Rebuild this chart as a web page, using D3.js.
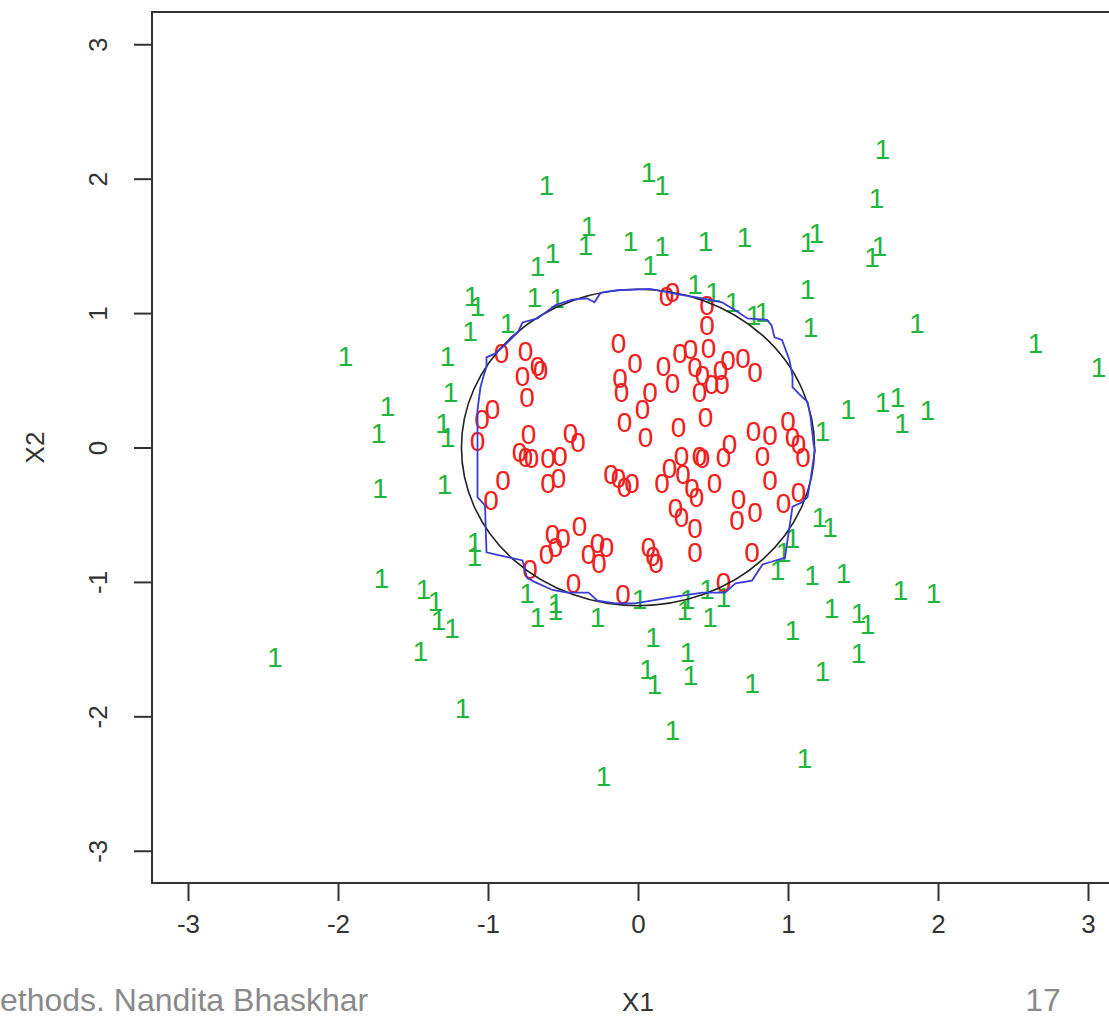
<!DOCTYPE html>
<html>
<head>
<meta charset="utf-8">
<script src="https://cdn.jsdelivr.net/npm/d3@7"></script>
<style>
  body { margin: 0; background: #fff; }
  svg { display: block; }
  text { font-family: "Liberation Sans", Arial, Helvetica, sans-serif; }
</style>
</head>
<body>
<script>

// tick values on both axes
const xTicks = [-3, -2, -1, 0, 1, 2, 3];
const yTicks = [-3, -2, -1, 0, 1, 2, 3];

// class 1 observations (green) as [X1, X2]
const class1Points = [
  [1.63, 2.22], [-0.61, 1.95], [0.07, 2.05], [0.16, 1.95], [1.59, 1.86],
  [-0.33, 1.65], [-0.35, 1.51], [-0.05, 1.54], [0.16, 1.50], [0.08, 1.36],
  [0.45, 1.54], [0.71, 1.57], [1.13, 1.53], [1.19, 1.60], [1.56, 1.42],
  [1.61, 1.50], [-0.57, 1.45], [-0.67, 1.35], [-1.11, 1.13], [-1.07, 1.05],
  [-0.69, 1.12], [-0.54, 1.11], [0.38, 1.22], [0.50, 1.16], [0.63, 1.08],
  [0.77, 0.99], [0.83, 1.01], [1.13, 1.18], [1.15, 0.90], [-1.12, 0.87],
  [-0.87, 0.93], [-1.95, 0.68], [-1.27, 0.68], [-1.25, 0.41], [-1.67, 0.31],
  [-1.73, 0.11], [-1.30, 0.18], [-1.27, 0.08], [-1.72, -0.30], [-1.29, -0.27],
  [-1.09, -0.70], [-1.09, -0.81], [-1.71, -0.97], [-1.43, -1.05], [-1.35, -1.14],
  [-1.33, -1.28], [-1.24, -1.34], [-1.45, -1.51], [-2.42, -1.56], [-1.17, -1.94],
  [-0.23, -2.44], [-0.74, -1.08], [-0.67, -1.26], [-0.55, -1.16], [-0.55, -1.21],
  [-0.27, -1.26], [0.01, -1.13], [0.10, -1.41], [0.06, -1.65], [0.11, -1.76],
  [0.31, -1.21], [0.33, -1.13], [0.46, -1.05], [0.57, -1.11], [0.48, -1.26],
  [0.33, -1.52], [0.35, -1.69], [0.76, -1.75], [0.23, -2.10], [1.11, -2.31],
  [1.03, -1.36], [1.29, -1.19], [1.47, -1.23], [1.53, -1.31], [1.47, -1.53],
  [1.23, -1.66], [0.93, -0.91], [0.97, -0.78], [1.03, -0.67], [1.16, -0.95],
  [1.37, -0.93], [1.21, -0.52], [1.28, -0.59], [1.75, -1.06], [1.97, -1.08],
  [1.86, 0.93], [2.65, 0.78], [3.07, 0.60], [1.40, 0.29], [1.63, 0.34],
  [1.73, 0.38], [1.76, 0.18], [1.93, 0.28], [1.23, 0.12]
];

// class 0 observations (red) as [X1, X2]
const class0Points = [
  [-0.91, 0.70], [-0.75, 0.72], [-0.67, 0.61], [-0.65, 0.58], [-0.77, 0.53],
  [-0.74, 0.38], [-0.97, 0.29], [-1.04, 0.21], [-1.07, 0.05], [-0.73, 0.10],
  [-0.45, 0.11], [-0.40, 0.04], [-0.79, -0.03], [-0.75, -0.07], [-0.71, -0.08],
  [-0.60, -0.08], [-0.52, -0.06], [-0.90, -0.24], [-0.98, -0.39], [-0.60, -0.26],
  [-0.53, -0.23], [-0.18, -0.20], [-0.13, -0.23], [-0.09, -0.29], [-0.04, -0.26],
  [-0.39, -0.58], [-0.57, -0.64], [-0.50, -0.67], [-0.55, -0.74], [-0.61, -0.79],
  [-0.33, -0.79], [-0.27, -0.71], [-0.21, -0.74], [-0.26, -0.86], [-0.72, -0.90],
  [-0.43, -1.01], [-0.10, -1.09], [0.07, -0.74], [0.10, -0.81], [0.12, -0.86],
  [0.16, -0.26], [0.21, -0.15], [0.29, -0.06], [0.30, -0.20], [0.36, -0.30],
  [0.39, -0.37], [0.25, -0.45], [0.29, -0.52], [0.38, -0.60], [0.38, -0.78],
  [0.51, -0.26], [0.41, -0.06], [0.43, -0.08], [0.57, -0.07], [0.61, 0.03],
  [0.67, -0.38], [0.66, -0.54], [0.78, -0.48], [0.76, -0.78], [0.57, -1.00],
  [0.83, -0.06], [0.77, 0.12], [0.88, 0.09], [0.88, -0.24], [1.00, 0.20],
  [1.03, 0.08], [1.07, 0.03], [1.10, -0.07], [1.07, -0.33], [0.97, -0.41],
  [0.27, 0.15], [0.45, 0.23], [0.05, 0.08], [-0.09, 0.19], [0.03, 0.29],
  [0.08, 0.41], [-0.11, 0.41], [-0.12, 0.52], [-0.02, 0.63], [-0.13, 0.78],
  [0.17, 0.61], [0.23, 0.48], [0.28, 0.70], [0.35, 0.73], [0.38, 0.60],
  [0.47, 0.74], [0.41, 0.41], [0.43, 0.54], [0.49, 0.47], [0.55, 0.58],
  [0.56, 0.47], [0.60, 0.65], [0.70, 0.67], [0.78, 0.56], [0.46, 0.91],
  [0.46, 1.06], [0.19, 1.13], [0.23, 1.16]
];

// fitted decision boundary (blue), traced clockwise from the top
const fittedBoundary = [
  [-0.14, 1.17], [0.08, 1.18], [0.27, 1.14], [0.43, 1.11], [0.56, 1.08],
  [0.65, 1.02], [0.73, 0.96], [0.86, 0.95], [0.89, 0.91], [0.91, 0.82],
  [0.96, 0.80], [1.01, 0.65], [1.03, 0.53], [1.03, 0.45], [1.09, 0.38],
  [1.13, 0.34], [1.15, 0.23], [1.17, 0.03], [1.18, -0.02], [1.17, -0.09],
  [1.15, -0.24], [1.13, -0.37], [1.09, -0.41], [1.03, -0.44], [1.01, -0.59],
  [0.99, -0.74], [0.98, -0.82], [0.89, -0.85], [0.83, -0.87], [0.76, -0.99],
  [0.65, -1.01], [0.58, -1.08], [0.43, -1.08], [0.25, -1.11], [-0.02, -1.16],
  [-0.15, -1.16], [-0.27, -1.14], [-0.33, -1.08], [-0.47, -1.08], [-0.57, -1.06],
  [-0.69, -1.00], [-0.74, -0.97], [-0.75, -0.93], [-0.77, -0.84], [-0.93, -0.80],
  [-1.01, -0.78], [-1.02, -0.43], [-1.07, -0.37], [-1.07, -0.02], [-1.07, 0.28],
  [-1.05, 0.45], [-1.03, 0.53], [-1.01, 0.60], [-1.01, 0.67], [-0.95, 0.70],
  [-0.89, 0.76], [-0.80, 0.86], [-0.77, 0.93], [-0.67, 0.96], [-0.55, 1.06],
  [-0.44, 1.10], [-0.34, 1.11], [-0.29, 1.08], [-0.25, 1.15], [-0.14, 1.17]
];

// radius of the true (bayes) boundary circle
const bayesRadius = 1.177;

const width = 1109;
const height = 1019;
const plot = {left: 152, top: 12, right: 1124, bottom: 883};

const svg = d3.select("body").append("svg")
    .attr("width", width)
    .attr("height", height);

// scales
const xScale = d3.scaleLinear()
    .domain([-3.24, 3.24])
    .range([plot.left, plot.right]);
const yScale = d3.scaleLinear()
    .domain([-3.24, 3.24])
    .range([plot.bottom, plot.top]);

svg.append("clipPath")
    .attr("id", "plotClip")
  .append("rect")
    .attr("x", plot.left)
    .attr("y", plot.top)
    .attr("width", plot.right - plot.left)
    .attr("height", plot.bottom - plot.top);

const inner = svg.append("g").attr("clip-path", "url(#plotClip)");

// green 1s
inner.selectAll(".one")
    .data(class1Points)
    .enter().append("text")
    .attr("class", "one")
    .attr("x", d => xScale(d[0]))
    .attr("y", d => yScale(d[1]))
    .attr("text-anchor", "middle")
    .attr("dy", "0.36em")
    .style("font-size", "28px")
    .attr("fill", "#1fb43c")
    .text("1");

// red 0s
inner.selectAll(".zero")
    .data(class0Points)
    .enter().append("text")
    .attr("class", "zero")
    .attr("x", d => xScale(d[0]))
    .attr("y", d => yScale(d[1]))
    .attr("text-anchor", "middle")
    .attr("dy", "0.36em")
    .style("font-size", "28px")
    .attr("fill", "#ee2020")
    .text("0");

// true boundary
inner.append("ellipse")
    .attr("cx", xScale(0))
    .attr("cy", yScale(0))
    .attr("rx", xScale(bayesRadius) - xScale(0))
    .attr("ry", yScale(0) - yScale(bayesRadius))
    .attr("fill", "none")
    .attr("stroke", "#222")
    .attr("stroke-width", 1.6);

// fitted boundary
const line = d3.line()
    .x(d => xScale(d[0]))
    .y(d => yScale(d[1]));

inner.append("path")
    .datum(fittedBoundary)
    .attr("d", line)
    .attr("fill", "none")
    .attr("stroke", "#3b3bd6")
    .attr("stroke-width", 1.8);

// plot box
svg.append("rect")
    .attr("x", plot.left)
    .attr("y", plot.top)
    .attr("width", plot.right - plot.left)
    .attr("height", plot.bottom - plot.top)
    .attr("fill", "none")
    .attr("stroke", "#333")
    .attr("stroke-width", 2);

// axes, R style labels with a plain hyphen
const xAxis = d3.axisBottom(xScale).tickValues(xTicks).tickSize(18).tickPadding(14)
    .tickFormat(d => String(d));
const yAxis = d3.axisLeft(yScale).tickValues(yTicks).tickSize(18).tickPadding(0)
    .tickFormat(d => String(d));

const gx = svg.append("g")
    .attr("transform", "translate(0," + plot.bottom + ")")
    .call(xAxis);
const gy = svg.append("g")
    .attr("transform", "translate(" + plot.left + ",0)")
    .call(yAxis);

[gx, gy].forEach(g => {
  g.select(".domain").remove();
  g.selectAll(".tick line").attr("stroke", "#333").attr("stroke-width", 2);
  g.selectAll(".tick text")
      .attr("fill", "#333")
      .style("font-size", "26px")
      .style("font-family", "'Liberation Sans', Arial, sans-serif");
});

// y tick labels run along the axis, like R
gy.selectAll(".tick text")
    .attr("x", null)
    .attr("dy", null)
    .attr("text-anchor", "middle")
    .attr("transform", "translate(-54,0) rotate(-90)")
    .attr("y", 0)
    .attr("dominant-baseline", "central");

// axis titles
svg.append("text")
    .attr("x", xScale(0))
    .attr("y", 1011)
    .attr("text-anchor", "middle")
    .attr("fill", "#333")
    .style("font-size", "26px")
    .text("X1");

svg.append("text")
    .attr("transform", "translate(44," + yScale(0) + ") rotate(-90)")
    .attr("text-anchor", "middle")
    .attr("fill", "#333")
    .style("font-size", "26px")
    .text("X2");

// slide footer
svg.append("text")
    .attr("x", 0)
    .attr("y", 1011)
    .attr("fill", "#8a8a8a")
    .style("font-size", "32px")
    .text("ethods. Nandita Bhaskhar");

svg.append("text")
    .attr("x", 1043)
    .attr("y", 1011)
    .attr("text-anchor", "middle")
    .attr("fill", "#8a8a8a")
    .style("font-size", "32px")
    .text("17");

</script>
</body>
</html>
